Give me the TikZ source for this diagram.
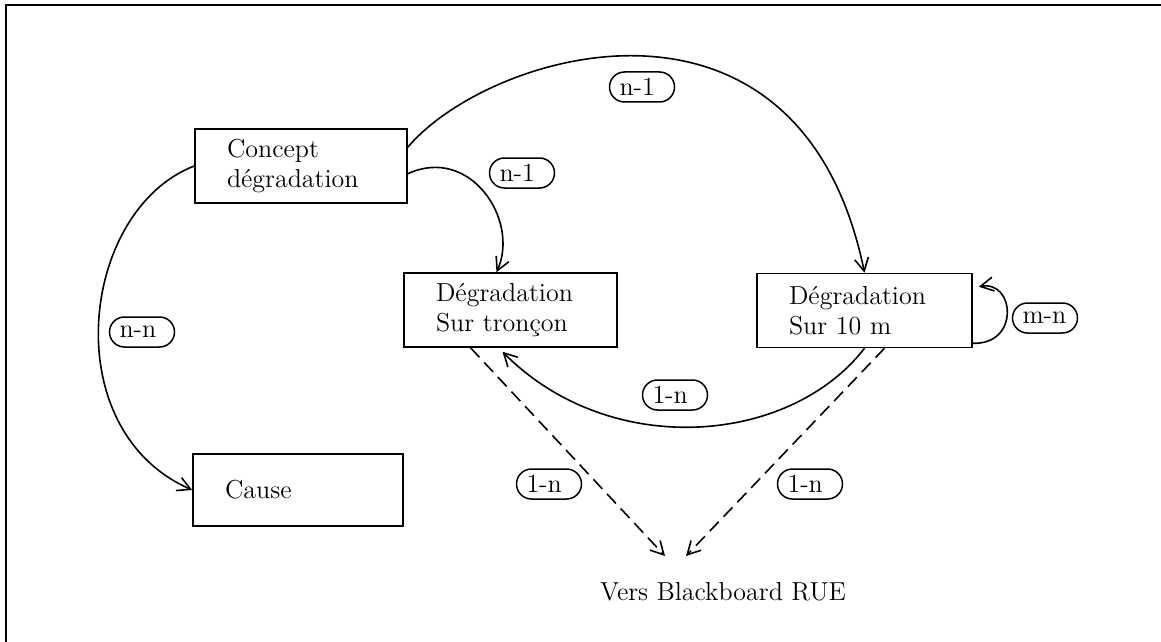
\documentclass[tikz,border=0pt]{standalone}
\usepackage{fontspec}
\usetikzlibrary{arrows.meta,calc}
\begin{document}
\begin{tikzpicture}[x=0.5pt,y=-0.5pt,
  txt/.style={font=\fontsize{13}{15}\selectfont},
  box/.style={txt,draw,line width=0.75pt,rectangle,align=left,inner xsep=16pt,inner ysep=0pt},
  lbl/.style={txt,draw,line width=0.75pt,rounded corners=7.5pt,minimum height=15pt,inner xsep=5pt,inner ysep=0pt},
  conn/.style={line width=0.8pt,-{Straight Barb[length=6.5pt,width=7pt]}},
  dconn/.style={conn,dash pattern=on 6.5pt off 3.5pt}]
\useasboundingbox (0,0) rectangle (1161,642);
\draw[line width=0.75pt] (6,642) -- (6,5) -- (1161,5);
% boxes
\node[box,text width=74pt,minimum height=37pt] (concept) at (301,166) {Concept\\dégradation};
\node[box,text width=74.5pt,minimum height=37pt] (tron) at (510.5,310) {Dégradation\\Sur tronçon};
\node[box,text width=75.5pt,minimum height=37pt] (ten) at (864.5,310.5) {Dégradation\\Sur 10 m};
\node[box,text width=73pt,minimum height=36pt] (cause) at (298,490) {Cause};
\node[txt,inner sep=0pt] (vers) at (723,592) {Vers Blackboard RUE};
\coordinate (tipL) at (665,556);
\coordinate (tipR) at (686,556);
% connectors
\draw[conn] ($(concept.north east)+(0,19)$) .. controls (490,50) and (800,-40) .. (ten.north);
\draw[conn] ($(concept.south east)+(0,-30)$) .. controls (470,145) and (520,220) .. ($(tron.north)+(-14,0)$);
\draw[conn] (concept.west) .. controls (80,210) and (55,430) .. (cause.west);
\draw[conn] ($(ten.south east)+(0,-5)$) .. controls (1020,345) and (1015,280) .. ($(ten.north east)+(6,14)$);
\draw[conn] (ten.south) .. controls (790,445) and (610,460) .. ($(tron.south)+(-8,4)$);
\draw[dconn] ($(tron.south)+(-40,0)$) -- (tipL);
\draw[dconn] ($(ten.south)+(20,0)$) -- (tipR);
% labels
\node[lbl,fill=white] (l1) at (642,87) {\makebox[22.5pt][l]{n-1}};
\node[lbl] (l2) at (522,173) {\makebox[22.5pt][l]{n-1}};
\node[lbl] (l3) at (142,332) {\makebox[22.5pt][l]{n-n}};
\node[lbl] (l4) at (1045,318) {\makebox[22.5pt][l]{m-n}};
\node[lbl] (l5) at (675,395) {\makebox[22.5pt][l]{1-n}};
\node[lbl] (l6) at (549,484) {\makebox[22.5pt][l]{1-n}};
\node[lbl] (l7) at (810,484) {\makebox[22.5pt][l]{1-n}};
\end{tikzpicture}
\end{document}
